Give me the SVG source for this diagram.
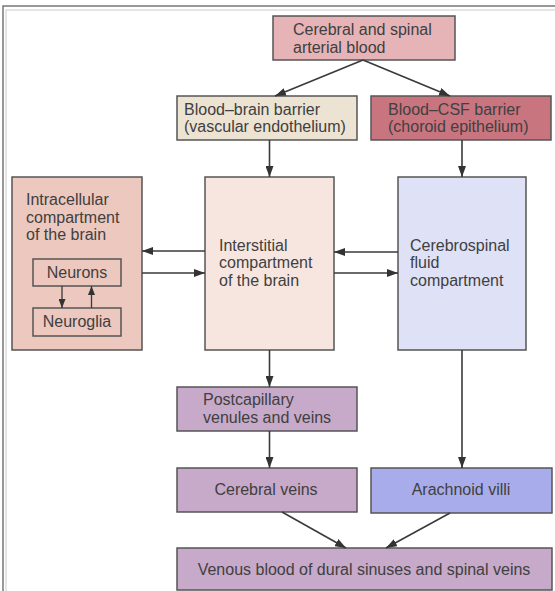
<svg xmlns="http://www.w3.org/2000/svg" width="555" height="591" viewBox="0 0 555 591">
<style>
.box{stroke:#555;stroke-width:1.5}
.t{font-family:"Liberation Sans",Arial,sans-serif;font-size:16px;fill:#404040}
.c{text-anchor:middle}
.ln{stroke:#3a3a3a;stroke-width:1.6;fill:none;marker-end:url(#ah)}
.sm{stroke:#3a3a3a;stroke-width:1.3;fill:none;marker-end:url(#ahs)}
</style>
<defs>
<marker id="ah" markerUnits="userSpaceOnUse" markerWidth="11" markerHeight="8" refX="11" refY="4" orient="auto"><path d="M0,0 L11,4 L0,8 z" fill="#333"/></marker>
<marker id="ahs" markerUnits="userSpaceOnUse" markerWidth="9" markerHeight="7" refX="9" refY="3.5" orient="auto"><path d="M0,0 L9,3.5 L0,7 z" fill="#333"/></marker>
</defs>
<rect width="555" height="591" fill="#fff"/>
<rect x="6" y="10" width="600" height="600" fill="none" stroke="#ddd" stroke-width="1.5"/>
<rect x="3" y="6" width="600" height="600" fill="none" stroke="#777" stroke-width="1.5"/>
<g id="arterial">
<rect class="box" x="273" y="16" width="182" height="44" fill="#e6b3b6"/>
<text class="t" x="293" y="35">Cerebral and spinal</text>
<text class="t" x="293" y="53">arterial blood</text>
</g>
<g id="bbb">
<rect class="box" x="177" y="96" width="180" height="44" fill="#ece3d3"/>
<text class="t" x="184" y="115">Blood–brain barrier</text>
<text class="t" x="184" y="132">(vascular endothelium)</text>
</g>
<g id="bcsf">
<rect class="box" x="371" y="96" width="180" height="44" fill="#c8757f"/>
<text class="t" x="388" y="115">Blood–CSF barrier</text>
<text class="t" x="388" y="132">(choroid epithelium)</text>
</g>
<g id="intracellular">
<rect class="box" x="12" y="177" width="130" height="173" fill="#ecc8be"/>
<text class="t" x="26" y="205">Intracellular</text>
<text class="t" x="26" y="223">compartment</text>
<text class="t" x="26" y="240">of the brain</text>
</g>
<g id="neurons">
<rect class="box" x="33" y="259" width="88" height="27" fill="#ecc8be"/>
<text class="t c" x="77" y="278">Neurons</text>
</g>
<g id="neuroglia">
<rect class="box" x="33" y="308" width="88" height="28" fill="#ecc8be"/>
<text class="t c" x="77" y="327">Neuroglia</text>
</g>
<g id="interstitial">
<rect class="box" x="205" y="177" width="129" height="173" fill="#f7e6e0"/>
<text class="t" x="219" y="251">Interstitial</text>
<text class="t" x="219" y="268">compartment</text>
<text class="t" x="219" y="286">of the brain</text>
</g>
<g id="csf">
<rect class="box" x="398" y="177" width="128" height="173" fill="#dfe1f7"/>
<text class="t" x="410" y="251">Cerebrospinal</text>
<text class="t" x="410" y="268">fluid</text>
<text class="t" x="410" y="286">compartment</text>
</g>
<g id="postcapillary">
<rect class="box" x="177" y="387" width="180" height="44" fill="#c7a9c9"/>
<text class="t" x="203" y="405">Postcapillary</text>
<text class="t" x="203" y="423">venules and veins</text>
</g>
<g id="cerebralveins">
<rect class="box" x="177" y="468" width="180" height="44" fill="#c7a9c9"/>
<text class="t c" x="266" y="495">Cerebral veins</text>
</g>
<g id="arachnoid">
<rect class="box" x="371" y="468" width="181" height="45" fill="#a9acea"/>
<text class="t c" x="461" y="495">Arachnoid villi</text>
</g>
<g id="venous">
<rect class="box" x="177" y="548" width="375" height="42" fill="#c7a9c9"/>
<text class="t c" x="364" y="575">Venous blood of dural sinuses and spinal veins</text>
</g>
<g id="connectors">
<line class="ln" x1="363" y1="60" x2="275" y2="96"/>
<line class="ln" x1="363" y1="60" x2="450" y2="96"/>
<line class="ln" x1="269.5" y1="140" x2="269.5" y2="177"/>
<line class="ln" x1="462" y1="140" x2="462" y2="177"/>
<line class="ln" x1="205" y1="251" x2="142" y2="251"/>
<line class="ln" x1="142" y1="273" x2="205" y2="273"/>
<line class="ln" x1="398" y1="252" x2="334" y2="252"/>
<line class="ln" x1="334" y1="273" x2="398" y2="273"/>
<line class="sm" x1="62" y1="286" x2="62" y2="308"/>
<line class="sm" x1="91.5" y1="308" x2="91.5" y2="286"/>
<line class="ln" x1="269.5" y1="350" x2="269.5" y2="387"/>
<line class="ln" x1="462" y1="350" x2="462" y2="468"/>
<line class="ln" x1="269.5" y1="431" x2="269.5" y2="468"/>
<line class="ln" x1="282" y1="512" x2="346" y2="548"/>
<line class="ln" x1="450" y1="513" x2="386" y2="548"/>
</g>
</svg>
